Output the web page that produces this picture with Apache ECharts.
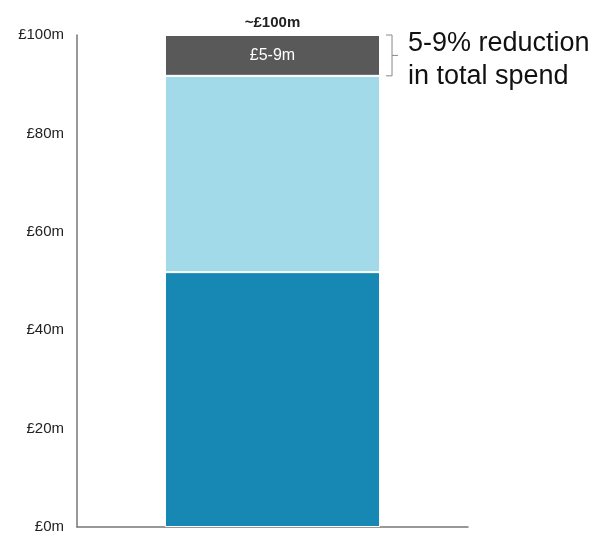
<!DOCTYPE html>
<html>
<head>
<meta charset="utf-8">
<script src="https://cdn.jsdelivr.net/npm/echarts@6/dist/echarts.min.js"></script>
<style>
  html, body { margin: 0; padding: 0; background: #fff; }
  #chart { width: 595px; height: 535px; }
</style>
</head>
<body>
<div id="chart"></div>
<script>
// Dati del grafico
const categories = ["Spend"];
const baseValues = [51.8];
const midValues = [39.9];
const reductionValues = [8.3];
const reductionLabel = "£5-9m";
const totalLabel = "~£100m";
const yTicks = [0, 20, 40, 60, 80, 100];
const noteLines = ["5-9% reduction", "in total spend"];

const font = "'Liberation Sans', Arial, sans-serif";

function stackSeries(name, data, color, extra = {}) {
  return {
    name,
    type: "bar",
    stack: "total",
    data,
    barWidth: "55%",
    itemStyle: { color, borderColor: "#fff", borderWidth: 1 },
    ...extra
  };
}

const chart = echarts.init(document.getElementById("chart"));

chart.setOption({
  animation: false,
  grid: { left: 77, right: 127, top: 35, bottom: 8 },
  xAxis: {
    type: "category",
    data: categories,
    axisLine: { lineStyle: { color: "#777", width: 1.5 } },
    axisTick: { show: false },
    axisLabel: { show: false }
  },
  yAxis: {
    type: "value",
    min: yTicks[0],
    max: yTicks[yTicks.length - 1],
    interval: 20,
    axisLine: { show: true, lineStyle: { color: "#777", width: 1.5 } },
    axisTick: { show: false },
    splitLine: { show: false },
    axisLabel: {
      formatter: v => "£" + v + "m",
      color: "#222",
      fontFamily: font,
      fontSize: 15,
      margin: 13
    }
  },
  series: [
    stackSeries("Base", baseValues, "#1787B3"),
    stackSeries("Mid", midValues, "#A3DAEA"),
    stackSeries("Reduction", reductionValues, "#595959", {
      label: {
        show: true,
        position: "inside",
        formatter: reductionLabel,
        color: "#fff",
        fontFamily: font,
        fontSize: 16
      }
    }),
    stackSeries("Total", [0], "transparent", {
      itemStyle: { color: "transparent", borderWidth: 0 },
      label: {
        show: true,
        position: "top",
        distance: 5,
        formatter: totalLabel,
        color: "#222",
        fontWeight: "bold",
        fontFamily: font,
        fontSize: 15
      }
    })
  ]
});

// Parentesi e nota a destra della barra
const topVal = baseValues[0] + midValues[0] + reductionValues[0];
const lowVal = baseValues[0] + midValues[0];
const yTop = chart.convertToPixel({ yAxisIndex: 0 }, topVal);
const yLow = chart.convertToPixel({ yAxisIndex: 0 }, lowVal);
const xBar = chart.convertToPixel({ xAxisIndex: 0 }, categories[0]);
const barHalf = (595 - 77 - 127) * 0.55 / 2;
const bx = xBar + barHalf + 6;
const yMid = (yTop + yLow) / 2;

chart.setOption({
  graphic: [
    {
      type: "polyline",
      shape: { points: [[bx, yTop], [bx + 6, yTop], [bx + 6, yLow], [bx, yLow]] },
      style: { stroke: "#888", lineWidth: 1, fill: null }
    },
    {
      type: "line",
      shape: { x1: bx + 6, y1: yMid, x2: bx + 12, y2: yMid },
      style: { stroke: "#888", lineWidth: 1 }
    },
    {
      type: "text",
      x: bx + 22,
      y: yMid + 5,
      style: {
        text: noteLines.join("\n"),
        font: "27px " + font,
        fill: "#111",
        lineHeight: 33,
        verticalAlign: "middle",
        align: "left"
      }
    }
  ]
});
</script>
</body>
</html>
